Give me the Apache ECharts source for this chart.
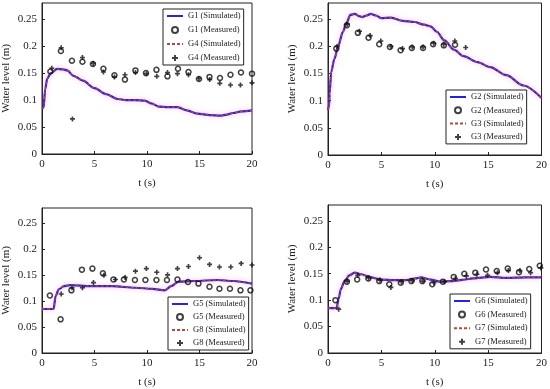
<!DOCTYPE html>
<html><head><meta charset="utf-8">
<script src="https://cdn.jsdelivr.net/npm/echarts@6/dist/echarts.min.js"></script>
<style>html,body{margin:0;padding:0;background:#fff}#c{width:550px;height:389px}</style>
</head><body><div id="c"></div>
<script>
// Panel 1 (G1, G4)
const g1Sim = [[0,0.085],[0.15,0.086],[0.3,0.12],[0.5,0.14],[0.85,0.15],[1.45,0.158],[2,0.157],[2.4,0.155],[3,0.145],[3.9,0.136],[5,0.122],[6.1,0.111],[7.2,0.102],[8,0.1],[8.9,0.1],[9.8,0.099],[10.4,0.094],[11.1,0.088],[12,0.087],[12.9,0.087],[13.8,0.081],[14.8,0.075],[16,0.072],[17,0.071],[17.6,0.073],[18.2,0.076],[19,0.079],[20,0.081]];
const g4Sim = g1Sim;
const g1Meas = [[0.8,0.153],[1.8,0.191],[2.85,0.173],[3.85,0.171],[4.85,0.167],[5.85,0.158],[6.9,0.146],[7.9,0.138],[8.9,0.155],[9.9,0.15],[10.9,0.156],[11.95,0.144],[12.95,0.158],[13.95,0.152],[14.95,0.139],[15.95,0.143],[16.95,0.141],[17.95,0.147],[18.95,0.151],[20,0.149]];
const g4Meas = [[0.93,0.159],[1.83,0.197],[2.9,0.065],[3.85,0.179],[4.88,0.168],[5.85,0.152],[6.9,0.143],[7.9,0.147],[8.9,0.151],[9.95,0.149],[10.93,0.144],[11.95,0.151],[12.9,0.149],[13.95,0.147],[14.95,0.14],[15.97,0.138],[16.93,0.131],[17.95,0.128],[18.9,0.128],[20,0.132]];
// Panel 2 (G2, G3)
const g2Sim = [[0,0.083],[0.1,0.09],[0.15,0.113],[0.3,0.153],[0.6,0.177],[0.93,0.199],[1.4,0.227],[1.7,0.242],[2.1,0.258],[2.5,0.26],[2.9,0.256],[3.2,0.254],[3.6,0.257],[4,0.26],[4.5,0.257],[5,0.252],[5.9,0.253],[7,0.247],[8.1,0.245],[9,0.24],[9.6,0.237],[10.2,0.227],[10.9,0.211],[11.8,0.194],[12.7,0.182],[14,0.171],[15.2,0.162],[16.7,0.147],[18.3,0.128],[20,0.105]];
const g3Sim = g2Sim;
const g2Meas = [[0.78,0.196],[1.77,0.239],[2.8,0.225],[3.8,0.216],[4.8,0.204],[5.8,0.199],[6.8,0.193],[7.85,0.197],[8.9,0.197],[9.85,0.204],[10.85,0.202],[11.9,0.203]];
const g3Meas = [[0.85,0.2],[1.8,0.241],[2.95,0.228],[3.95,0.22],[4.95,0.21],[5.9,0.2],[6.98,0.196],[7.9,0.199],[8.9,0.199],[9.9,0.206],[10.85,0.204],[11.88,0.21],[12.9,0.198]];
// Panel 3 (G5, G8)
const g5Sim = [[0,0.085],[1.1,0.085],[1.3,0.11],[1.6,0.123],[2.1,0.129],[2.7,0.131],[4.6,0.129],[6.7,0.129],[8.9,0.126],[10.5,0.124],[11.7,0.121],[12.3,0.129],[13,0.138],[14.5,0.139],[16.7,0.141],[18.2,0.139],[20,0.134]];
const g8Sim = g5Sim;
const g5Meas = [[0.75,0.111],[1.77,0.065],[2.8,0.121],[3.8,0.161],[4.8,0.163],[5.8,0.154],[6.8,0.142],[7.8,0.142],[8.85,0.141],[9.85,0.141],[10.9,0.141],[11.9,0.141],[12.9,0.142],[13.9,0.137],[14.9,0.134],[15.95,0.128],[16.9,0.124],[17.9,0.124],[18.9,0.121],[19.85,0.121]];
const g8Meas = [[1.83,0.114],[2.86,0.126],[3.85,0.126],[4.9,0.136],[5.9,0.15],[6.99,0.142],[7.92,0.146],[8.9,0.158],[9.94,0.163],[10.93,0.156],[11.96,0.151],[12.9,0.163],[13.95,0.167],[15,0.184],[15.96,0.171],[16.9,0.166],[17.98,0.166],[18.97,0.173],[20,0.17]];
// Panel 4 (G6, G7)
const g6Sim = [[0,0.085],[0.8,0.085],[1,0.103],[1.2,0.121],[1.55,0.136],[2,0.147],[2.5,0.152],[3.1,0.149],[4,0.143],[5,0.139],[6.2,0.138],[7.4,0.138],[8.2,0.141],[8.7,0.143],[9.6,0.139],[10.5,0.135],[11.5,0.136],[12.4,0.138],[13.6,0.141],[15.2,0.144],[16.7,0.142],[18.5,0.143],[20,0.143]];
const g7Sim = g6Sim;
const g6Meas = [[0.7,0.1],[1.77,0.135],[2.73,0.139],[3.78,0.141],[4.8,0.136],[5.74,0.13],[6.82,0.133],[7.81,0.136],[8.84,0.136],[9.77,0.13],[10.76,0.135],[11.78,0.144],[12.77,0.15],[13.8,0.152],[14.8,0.158],[15.81,0.155],[16.84,0.16],[17.89,0.153],[18.85,0.159],[19.84,0.165]];
const g7Meas = [[1,0.083],[1.8,0.136],[2.79,0.147],[3.81,0.142],[4.87,0.138],[5.89,0.124],[6.88,0.135],[7.91,0.137],[8.9,0.136],[9.92,0.133],[10.91,0.135],[11.94,0.141],[12.96,0.146],[13.95,0.149],[14.95,0.147],[15.88,0.152],[16.9,0.156],[17.98,0.156],[18.98,0.152],[19.94,0.161]];

const xTicks = {min:0, max:20, interval:5};
const yTicks = {min:0, max:0.28, interval:0.05};

const panels = [
  {sim:['G1 (Simulated)','G4 (Simulated)'], meas:['G1 (Measured)','G4 (Measured)'], data:[g1Sim,g4Sim,g1Meas,g4Meas],
   grid:{left:37,top:3,width:215,height:151}, legend:{left:163,top:9,gap:4}},
  {sim:['G2 (Simulated)','G3 (Simulated)'], meas:['G2 (Measured)','G3 (Measured)'], data:[g2Sim,g3Sim,g2Meas,g3Meas],
   grid:{left:328,top:3,width:215,height:152}, legend:{left:446,top:90,gap:3.3}},
  {sim:['G5 (Simulated)','G8 (Simulated)'], meas:['G5 (Measured)','G8 (Measured)'], data:[g5Sim,g8Sim,g5Meas,g8Meas],
   grid:{left:37,top:208,width:215,height:147}, legend:{left:168,top:297,gap:3}},
  {sim:['G6 (Simulated)','G7 (Simulated)'], meas:['G6 (Measured)','G7 (Measured)'], data:[g6Sim,g7Sim,g6Meas,g7Meas],
   grid:{left:328,top:205,width:215,height:152}, legend:{left:450,top:294,gap:3.6}}
];

const FONT = 'Liberation Serif';
const plusPath = 'path://M2,0H4V2H6V4H4V6H2V4H0V2H2Z';
const grids=[], xAxes=[], yAxes=[], legends=[], series=[];
panels.forEach((p,i)=>{
  grids.push(Object.assign({show:true, borderColor:'#222', borderWidth:1, backgroundColor:'transparent'}, p.grid));
  const axisCommon = {
    gridIndex:i, type:'value', nameLocation:'middle',
    nameTextStyle:{fontFamily:FONT, fontSize:11, color:'#222'},
    axisLine:{show:true, lineStyle:{color:'#222', width:1}},
    axisTick:{show:true, inside:true, length:3, lineStyle:{color:'#222'}},
    splitLine:{show:false},
    axisLabel:{fontFamily:FONT, fontSize:11, color:'#222', margin:5}
  };
  xAxes.push(Object.assign({}, axisCommon, xTicks, {name:'t (s)', nameGap:24}));
  yAxes.push(Object.assign({}, axisCommon, yTicks, {name:'Water level (m)', nameGap:30,
    axisLabel:Object.assign({}, axisCommon.axisLabel, {showMaxLabel:false})}));
  legends.push({
    orient:'vertical', left:p.legend.left, top:p.legend.top,
    data:[p.sim[0], p.meas[0], p.sim[1], p.meas[1]],
    itemWidth:16, itemHeight:6, itemGap:p.legend.gap,
    padding:[2,3,2,3], borderColor:'#222', borderWidth:1, backgroundColor:'#fff',
    textStyle:{fontFamily:FONT, fontSize:8.5, lineHeight:10, color:'#222'},
    selectedMode:false
  });
  series.push({name:p.sim[0], type:'line', xAxisIndex:i, yAxisIndex:i, data:p.data[0],
    showSymbol:false, symbol:'none', smooth:0.3, smoothMonotone:'x', silent:true,
    lineStyle:{color:'#2424d8', width:2.2, shadowColor:'rgba(255,120,210,0.55)', shadowBlur:5},
    itemStyle:{color:'rgba(0,0,0,0)', borderWidth:0}, z:2});
  series.push({name:p.sim[1], type:'line', xAxisIndex:i, yAxisIndex:i, data:p.data[1],
    showSymbol:false, symbol:'none', smooth:0.3, smoothMonotone:'x', silent:true,
    lineStyle:{color:'#b24a3a', width:1.3, type:[3,2]},
    itemStyle:{color:'rgba(0,0,0,0)', borderWidth:0}, z:3});
  series.push({name:p.meas[0], type:'scatter', xAxisIndex:i, yAxisIndex:i, data:p.data[2],
    symbol:'circle', symbolSize:5, silent:true,
    itemStyle:{color:'rgba(255,255,255,0)', borderColor:'#111', borderWidth:1.5}, z:4});
  series.push({name:p.meas[1], type:'scatter', xAxisIndex:i, yAxisIndex:i, data:p.data[3],
    symbol:plusPath, symbolSize:5, silent:true,
    itemStyle:{color:'#111'}, z:5});
});

const chart = echarts.init(document.getElementById('c'), null, {renderer:'canvas'});
chart.setOption({animation:false, textStyle:{fontFamily:FONT}, grid:grids, xAxis:xAxes, yAxis:yAxes, legend:legends, series:series});
</script></body></html>
